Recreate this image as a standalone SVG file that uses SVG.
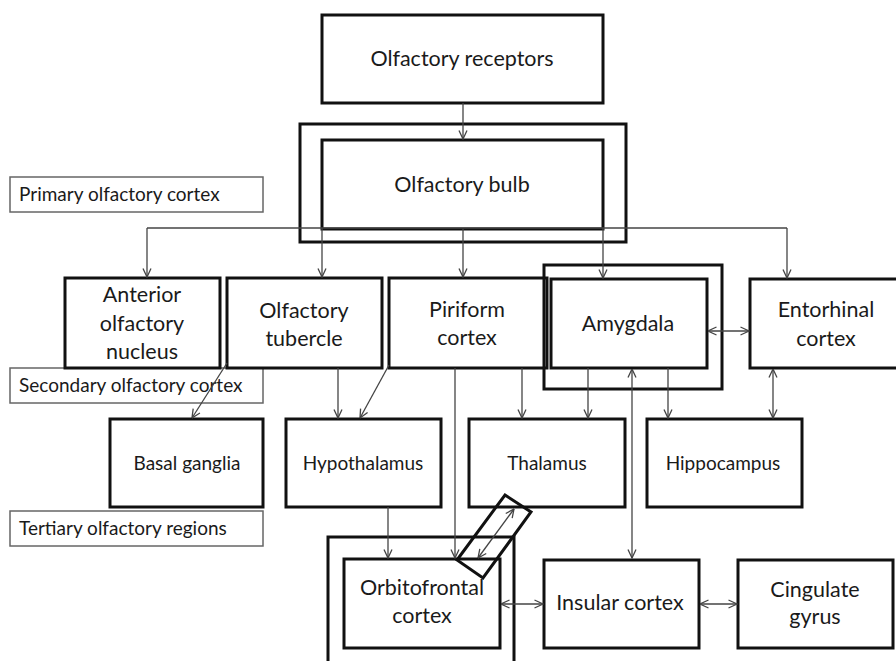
<svg xmlns="http://www.w3.org/2000/svg" width="896" height="661" viewBox="0 0 896 661">
<style>
.box{fill:#fff;stroke:#111;stroke-width:3}
.grp{fill:none;stroke:#111;stroke-width:3}
.lbl{fill:#fff;stroke:#666;stroke-width:1.5}
.t{font-family:Lato,"Open Sans",sans-serif;font-size:21.5px;fill:#1a1a1a;text-anchor:middle}
.s{font-family:Lato,"Open Sans",sans-serif;font-size:19px;fill:#1a1a1a;text-anchor:middle}
.l{font-family:Lato,"Open Sans",sans-serif;font-size:19px;fill:#1a1a1a}
.c{fill:none;stroke:#444;stroke-width:1.3}
</style>
<defs>
<marker id="ah" viewBox="0 0 10 10" refX="9.5" refY="5" markerWidth="10" markerHeight="10" markerUnits="userSpaceOnUse" orient="auto-start-reverse">
<path d="M1,1 L9.5,5 L1,9" fill="none" stroke="#444" stroke-width="1.3"/>
</marker>
</defs>

<g id="labels">
<g id="primary-label"><rect class="lbl" x="10" y="177" width="253" height="35"/><text class="l" x="19" y="201">Primary olfactory cortex</text></g>
<g id="secondary-label"><rect class="lbl" x="10" y="368" width="253" height="35"/><text class="l" x="19" y="392">Secondary olfactory cortex</text></g>
<g id="tertiary-label"><rect class="lbl" x="10" y="511" width="253" height="35"/><text class="l" x="19" y="535">Tertiary olfactory regions</text></g>
</g>

<g id="receptors"><rect class="box" x="322" y="15" width="281" height="88"/><text class="t" x="462" y="66">Olfactory receptors</text></g>
<g id="bulb"><rect class="grp" x="300" y="124" width="326" height="118"/><rect class="box" x="322" y="140" width="281" height="89"/><text class="t" x="462" y="192">Olfactory bulb</text></g>

<g id="aon"><rect class="box" x="65" y="278" width="155" height="90"/><text class="t" x="142" y="302">Anterior</text><text class="t" x="142" y="331">olfactory</text><text class="t" x="142" y="359">nucleus</text></g>
<g id="tubercle"><rect class="box" x="227" y="278" width="155" height="90"/><text class="t" x="304" y="318">Olfactory</text><text class="t" x="304" y="346">tubercle</text></g>
<g id="piriform"><rect class="box" x="389" y="278" width="158" height="90"/><text class="t" x="467" y="317">Piriform</text><text class="t" x="467" y="345">cortex</text></g>
<g id="amygdala"><rect class="grp" x="544" y="265" width="178" height="124"/><rect class="box" x="551" y="279" width="156" height="89"/><text class="t" x="628" y="331">Amygdala</text></g>
<g id="entorhinal"><rect class="box" x="750" y="279" width="152" height="89"/><text class="t" x="826" y="317">Entorhinal</text><text class="t" x="826" y="346">cortex</text></g>

<g id="basal"><rect class="box" x="110" y="419" width="153" height="88"/><text class="s" x="187" y="470">Basal ganglia</text></g>
<g id="hypothalamus"><rect class="box" x="286" y="419" width="155" height="88"/><text class="s" x="363" y="470">Hypothalamus</text></g>
<g id="thalamus"><rect class="box" x="469" y="419" width="156" height="88"/><text class="s" x="547" y="470">Thalamus</text></g>
<g id="hippocampus"><rect class="box" x="647" y="419" width="155" height="88"/><text class="s" x="723" y="470">Hippocampus</text></g>

<g id="orbitofrontal"><rect class="grp" x="328" y="537" width="186" height="140"/><rect class="box" x="344" y="559" width="156" height="89"/><text class="t" x="422" y="595">Orbitofrontal</text><text class="t" x="422" y="623">cortex</text></g>
<g id="insular"><rect class="box" x="544" y="560" width="155" height="88"/><text class="t" x="620" y="610">Insular cortex</text></g>
<g id="cingulate"><rect class="box" x="738" y="560" width="155" height="88"/><text class="t" x="815" y="597">Cingulate</text><text class="t" x="815" y="624">gyrus</text></g>

<g id="connectors">
<path class="c" d="M463,103 V139" marker-end="url(#ah)"/>
<path class="c" d="M147,228 H787"/>
<path class="c" d="M147,228 V277" marker-end="url(#ah)"/>
<path class="c" d="M322,228 V277" marker-end="url(#ah)"/>
<path class="c" d="M463,229 V277" marker-end="url(#ah)"/>
<path class="c" d="M603,228 V278" marker-end="url(#ah)"/>
<path class="c" d="M787,228 V278" marker-end="url(#ah)"/>
<path class="c" d="M227,363 L192,418" marker-end="url(#ah)"/>
<path class="c" d="M338,368 V418" marker-end="url(#ah)"/>
<path class="c" d="M389,365 L360,418" marker-end="url(#ah)"/>
<path class="c" d="M455,368 V558" marker-end="url(#ah)"/>
<path class="c" d="M522,368 V418" marker-end="url(#ah)"/>
<path class="c" d="M588,368 V418" marker-end="url(#ah)"/>
<path class="c" d="M668,368 V418" marker-end="url(#ah)"/>
<path class="c" d="M632,558 V369" marker-start="url(#ah)" marker-end="url(#ah)"/>
<path class="c" d="M708,331 H749" marker-start="url(#ah)" marker-end="url(#ah)"/>
<path class="c" d="M773,369 V418" marker-start="url(#ah)" marker-end="url(#ah)"/>
<path class="c" d="M388,507 V558" marker-end="url(#ah)"/>
<path class="c" d="M478,558 L514,509" marker-start="url(#ah)" marker-end="url(#ah)"/>
<path class="c" d="M501,604 H543" marker-start="url(#ah)" marker-end="url(#ah)"/>
<path class="c" d="M700,604 H737" marker-start="url(#ah)" marker-end="url(#ah)"/>
</g>
<g id="highlight"><polygon class="grp" points="505,495 531,512 483,578 457,560"/></g>
</svg>
